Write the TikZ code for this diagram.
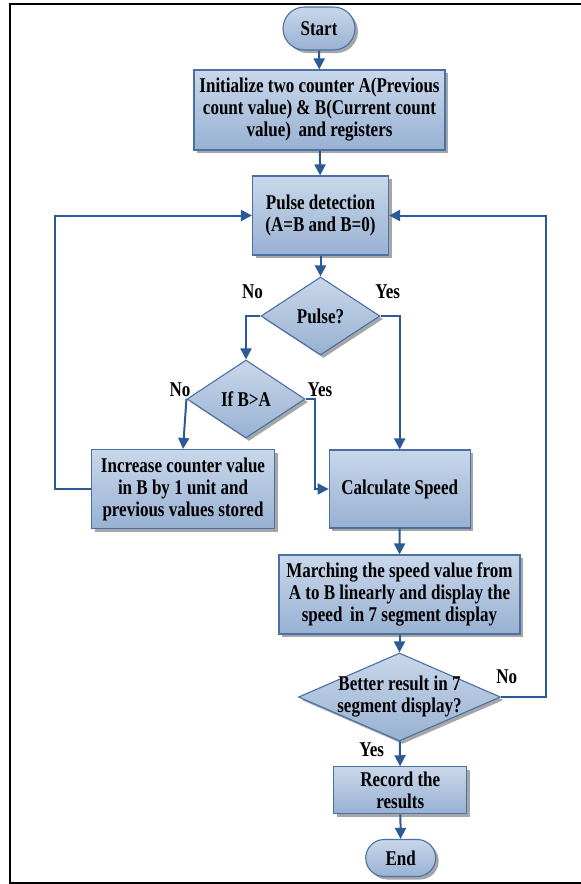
\documentclass[tikz,border=0pt]{standalone}
\usepackage{fontspec}
\newfontfamily\chartfont[FakeStretch=0.81]{Liberation Serif}
\usetikzlibrary{shapes.geometric,shapes.misc,arrows.meta,shadows}

\definecolor{boxtop}{HTML}{C9D7EA}
\definecolor{boxbot}{HTML}{98B1D2}
\definecolor{boxedge}{HTML}{4A70A6}
\definecolor{flow}{HTML}{2C5A96}

\tikzset{
  base/.style={draw=boxedge, line width=1.1pt, top color=boxtop, bottom color=boxbot,
    inner sep=0pt, align=center,
    drop shadow={shadow xshift=3pt, shadow yshift=-3pt, fill=gray!70, opacity=1},
    font=\chartfont\bfseries\fontsize{21}{22}\selectfont},
  procbox/.style={base, rectangle},
  termbox/.style={base, rounded rectangle},
  decision/.style={base, diamond},
  caption/.style={inner sep=0pt, align=center, font=\chartfont\bfseries\fontsize{21}{22}\selectfont},
  flowline/.style={draw=flow, line width=2pt},
  arr/.style={flowline, -{Triangle[length=11pt,width=11pt]}}
}

\begin{document}
\begin{tikzpicture}[x=1pt, y=-1pt]
\useasboundingbox (0,0) rectangle (581,884);

% outer frame
\draw[line width=2.2pt] (581,4.2) -- (10,4.2) -- (10,883.2) -- (581,883.2);

% steps
\node[termbox, minimum width=72pt, minimum height=43pt] (start) at (319,28.5) {Start};
\node[procbox, minimum width=251pt, minimum height=80pt] (init) at (319.5,110)
  {Initialize two counter A(Previous\\count value) \& B(Current count\\value)\, and registers};
\node[procbox, minimum width=136pt, minimum height=79pt] (pulse) at (320.5,215.5)
  {Pulse detection\\(A=B and B=0)};
\node[decision, minimum width=119pt, minimum height=78pt] (pdec) at (320.5,316) {};
\node[caption] (pdectext) at (pdec) {Pulse?};
\node[decision, minimum width=118pt, minimum height=78pt] (ifd) at (246,399) {};
\node[caption] (ifdtext) at (ifd) {If B>A};
\node[procbox, minimum width=183pt, minimum height=79pt] (inc) at (183,489)
  {Increase counter value\\in B by 1 unit and\\previous values stored};
\node[procbox, minimum width=141pt, minimum height=78pt] (calc) at (399.7,489)
  {Calculate Speed};
\node[procbox, minimum width=241pt, minimum height=79pt] (march) at (399.5,594.5)
  {Marching the speed value from\\A to B linearly and display the\\speed\, in 7 segment display};
\node[decision, minimum width=202pt, minimum height=88pt] (better) at (399.5,697) {};
\node[caption] (bettertext) at (better) {Better result in 7\\segment display?};
\node[procbox, minimum width=133pt, minimum height=47pt] (record) at (400.3,790.3)
  {Record the\\results};
\node[termbox, minimum width=70pt, minimum height=37pt] (finish) at (400.7,858) {End};

% branch labels
\node[caption] (pno) at (252.5,292) {No};
\node[caption] (pyes) at (387.7,292) {Yes};
\node[caption] (ino) at (180,390) {No};
\node[caption] (iyes) at (320,390) {Yes};
\node[caption] (bno) at (506.7,676.7) {No};
\node[caption] (byes) at (371.7,750) {Yes};

% connectors
\draw[arr] (start) -- (init);
\draw[arr] (init) -- (pulse);
\draw[arr] (pulse) -- (pdec);
\draw[arr] (pdec.west) -| (ifd.north);
\draw[arr] (pdec.east) -| (calc.north);
\draw[arr] (ifd.west) -- (inc.north);
\draw[arr] (ifd.east) -- ++(9,0) |- (calc.west);
\draw[arr] (inc.west) -- ++(-36,0) |- (pulse.west);
\draw[arr] (calc) -- (march);
\draw[arr] (march) -- (better);
\draw[arr] (better.east) -- ++(44.5,0) |- (pulse.east);
\draw[arr] (better) -- (record);
\draw[arr] (record) -- (finish);
\end{tikzpicture}
\end{document}
